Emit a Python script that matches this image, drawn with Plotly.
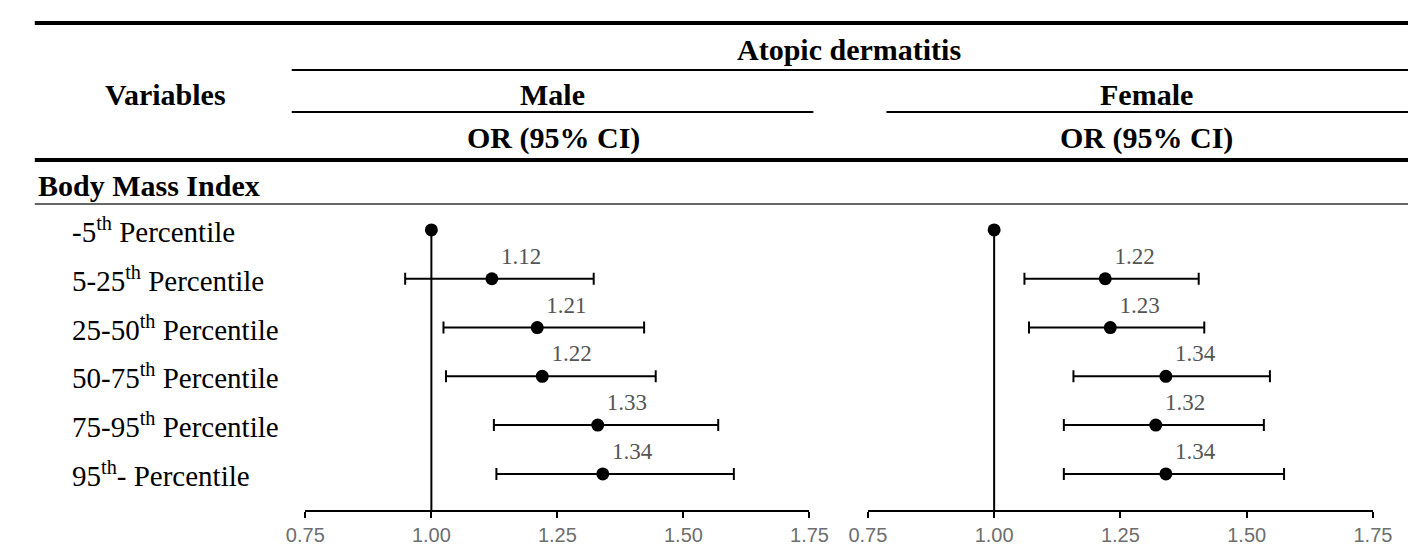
import plotly.graph_objects as go

# ---------------- data ----------------
row_labels = ["-5<sup>th</sup> Percentile", "5-25<sup>th</sup> Percentile", "25-50<sup>th</sup> Percentile",
              "50-75<sup>th</sup> Percentile", "75-95<sup>th</sup> Percentile", "95<sup>th</sup>- Percentile"]
ref_or = 1.00
male_or = [1.12, 1.21, 1.22, 1.33, 1.34]
male_lo = [0.948, 1.024, 1.029, 1.124, 1.129]
male_hi = [1.322, 1.422, 1.445, 1.569, 1.600]
female_or = [1.22, 1.23, 1.34, 1.32, 1.34]
female_lo = [1.060, 1.069, 1.157, 1.138, 1.138]
female_hi = [1.405, 1.416, 1.546, 1.534, 1.574]
tick_vals = [0.75, 1.00, 1.25, 1.50, 1.75]
tick_text = ["0.75", "1.00", "1.25", "1.50", "1.75"]

W, H = 1419, 544
SERIF = "Liberation Serif, Times New Roman, serif"
SANS = "Liberation Sans, Arial, sans-serif"

def px(x):
    return x / W

def py(y):
    return 1 - y / H

Y_BOTTOM = 5.74
Y_TOP = -0.6
y_dom = [py(502), py(192.7)]

fig = go.Figure()

panels = [
    ("x", "y", male_or, male_lo, male_hi),
    ("x2", "y2", female_or, female_lo, female_hi),
]
for xa, ya, ors, lo, hi in panels:
    rows = list(range(1, len(ors) + 1))
    # reference line at OR = 1
    fig.add_trace(go.Scatter(x=[ref_or, ref_or], y=[0, Y_BOTTOM], mode="lines",
                             line=dict(color="black", width=2), xaxis=xa, yaxis=ya,
                             showlegend=False, hoverinfo="skip"))
    # reference category marker
    fig.add_trace(go.Scatter(x=[ref_or], y=[0], mode="markers",
                             marker=dict(color="black", size=13), xaxis=xa, yaxis=ya,
                             showlegend=False))
    # estimates with CI
    fig.add_trace(go.Scatter(
        x=ors, y=rows, mode="markers+text",
        text=[f"{v:.2f}" for v in ors], textposition="top right",
        textfont=dict(family=SERIF, size=23, color="#555555"),
        marker=dict(color="black", size=13),
        error_x=dict(type="data", symmetric=False,
                     array=[h - o for h, o in zip(hi, ors)],
                     arrayminus=[o - l for o, l in zip(ors, lo)],
                     color="black", thickness=2, width=6),
        xaxis=xa, yaxis=ya, showlegend=False))

axis_common = dict(range=[0.75, 1.75], tickvals=tick_vals, ticktext=tick_text,
                   showline=True, linecolor="black", linewidth=2, ticks="outside",
                   ticklen=6, tickwidth=2, tickcolor="black", showgrid=False, zeroline=False,
                   tickfont=dict(family=SANS, size=20, color="#6e6e6e"))
yaxis_common = dict(range=[Y_BOTTOM, Y_TOP], visible=False, showgrid=False, zeroline=False,
                    domain=y_dom)

fig.update_layout(
    width=W, height=H, autosize=False,
    margin=dict(l=0, r=0, t=0, b=0),
    plot_bgcolor="white", paper_bgcolor="white",
    xaxis=dict(domain=[px(286), px(804)], anchor="y", **axis_common),
    xaxis2=dict(domain=[px(864), px(1383)], anchor="y2", **axis_common),
    yaxis=dict(anchor="x", **yaxis_common),
    yaxis2=dict(anchor="x2", **yaxis_common),
)

# ---------------- header table lines ----------------
def hline(x0, x1, y, width, color="black"):
    fig.add_shape(type="line", xref="paper", yref="paper",
                  x0=px(x0), x1=px(x1), y0=py(y), y1=py(y),
                  line=dict(color=color, width=width))

hline(8, 1419, 15, 4)
hline(272, 1419, 62, 2)
hline(272, 808, 104, 2)
hline(883, 1419, 104, 2)
hline(8, 1419, 152, 4)
hline(8, 1419, 196, 2, "#666666")

def label(text, x, y, size=30, bold=False, anchor="center"):
    fig.add_annotation(text=f"<b>{text}</b>" if bold else text,
                       xref="paper", yref="paper", x=px(x), y=py(y),
                       xanchor=anchor, yanchor="middle", showarrow=False,
                       font=dict(family=SERIF, size=size, color="black"))

label("Atopic dermatitis", 845, 42, size=30, bold=True)
label("Variables", 142, 86, bold=True)
label("Male", 540, 86, bold=True)
label("Female", 1150, 86, bold=True)
label("OR (95% CI)", 541, 130, bold=True)
label("OR (95% CI)", 1150, 130, bold=True)
label("Body Mass Index", 9, 177, bold=True, anchor="left")

for i, t in enumerate(row_labels):
    fig.add_annotation(text=t, xref="paper", yref="y", x=px(44), y=i,
                       xanchor="left", yanchor="middle", showarrow=False,
                       font=dict(family=SERIF, size=29, color="black"))

fig.write_html("out.html")
